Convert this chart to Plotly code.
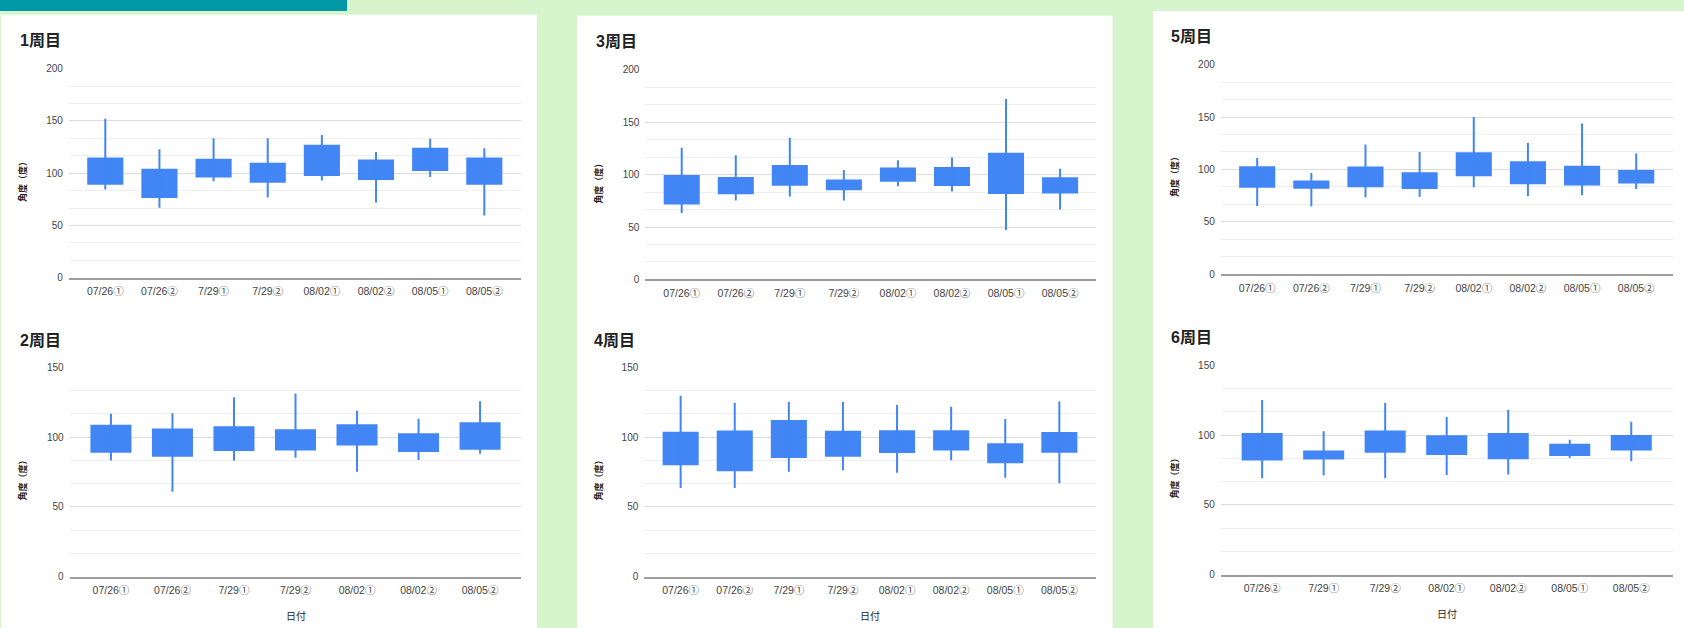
import plotly.graph_objects as go

W, H = 1684, 628

# ---- data: weekly joint-angle ranges (low / box bottom / box top / high) ----
labels_w1 = ["07/26①", "07/26②", "7/29①", "7/29②", "08/02①", "08/02②", "08/05①", "08/05②"]
low_w1 = [84.5, 67.0, 92.3, 76.7, 93.0, 72.0, 96.4, 59.5]
open_w1 = [88.9, 76.4, 95.8, 90.8, 97.3, 93.6, 102.0, 88.9]
close_w1 = [114.9, 104.2, 113.9, 109.9, 127.1, 113.0, 124.3, 114.9]
high_w1 = [152.1, 123.0, 133.3, 133.3, 136.5, 120.2, 133.0, 123.9]

labels_w2 = ["07/26①", "07/26②", "7/29①", "7/29②", "08/02①", "08/02②", "08/05②"]
low_w2 = [83.1, 60.8, 82.9, 85.2, 75.1, 83.6, 88.0]
open_w2 = [88.7, 85.9, 89.9, 90.4, 93.9, 89.2, 90.8]
close_w2 = [108.7, 106.1, 107.7, 105.6, 109.2, 102.6, 110.6]
high_w2 = [116.7, 117.1, 128.4, 131.2, 118.8, 113.1, 125.6]

labels_w3 = ["07/26①", "07/26②", "7/29①", "7/29②", "08/02①", "08/02②", "08/05①", "08/05②"]
low_w3 = [63.4, 75.3, 79.1, 75.3, 88.8, 83.8, 47.2, 66.6]
open_w3 = [71.6, 81.3, 89.4, 85.0, 93.1, 89.1, 81.6, 81.9]
close_w3 = [99.7, 97.8, 109.1, 95.3, 106.9, 107.2, 120.9, 97.5]
high_w3 = [125.6, 118.4, 135.3, 104.4, 113.8, 116.3, 172.2, 105.6]

labels_w4 = ["07/26①", "07/26②", "7/29①", "7/29②", "08/02①", "08/02②", "08/05①", "08/05②"]
low_w4 = [63.4, 63.4, 75.1, 76.1, 74.4, 83.3, 70.7, 66.9]
open_w4 = [79.8, 75.4, 85.0, 85.9, 88.5, 90.4, 81.2, 88.7]
close_w4 = [103.8, 104.7, 112.2, 104.5, 104.9, 104.9, 95.5, 103.5]
high_w4 = [129.6, 124.6, 125.1, 125.1, 123.0, 121.6, 112.9, 125.4]

labels_w5 = ["07/26①", "07/26②", "7/29①", "7/29②", "08/02①", "08/02②", "08/05①", "08/05②"]
low_w5 = [65.0, 64.7, 73.4, 73.8, 83.1, 74.4, 75.6, 81.3]
open_w5 = [82.5, 81.6, 83.1, 81.3, 93.4, 85.9, 84.7, 86.6]
close_w5 = [103.1, 89.4, 102.8, 97.2, 116.3, 107.8, 103.4, 99.4]
high_w5 = [110.9, 96.6, 123.8, 116.6, 150.0, 125.3, 143.8, 115.3]

labels_w6 = ["07/26②", "7/29①", "7/29②", "08/02①", "08/02②", "08/05①", "08/05②"]
low_w6 = [69.0, 71.1, 69.0, 71.4, 71.8, 83.6, 81.2]
open_w6 = [81.7, 82.4, 87.3, 85.7, 82.6, 85.0, 89.0]
close_w6 = [101.4, 89.0, 103.3, 99.8, 101.4, 93.7, 100.0]
high_w6 = [125.1, 102.8, 123.0, 112.9, 118.1, 96.7, 109.6]

titles = ["1周目", "2周目", "3周目", "4周目", "5周目", "6周目"]
y_maxes = [200, 150, 200, 150, 200, 150]
y_title = "角度（度）"
x_title = "日付"

# ---- styling ----
BLUE = "#4285F4"
PAGE_BG = "#d6f5cc"
TEAL = "#0097a7"
FONT = "Arial, 'Liberation Sans', 'Noto Sans CJK JP', sans-serif"


def fx(px):
    return px / W


def fy(py):
    return 1 - py / H


series = [
    (labels_w1, low_w1, open_w1, close_w1, high_w1),
    (labels_w2, low_w2, open_w2, close_w2, high_w2),
    (labels_w3, low_w3, open_w3, close_w3, high_w3),
    (labels_w4, low_w4, open_w4, close_w4, high_w4),
    (labels_w5, low_w5, open_w5, close_w5, high_w5),
    (labels_w6, low_w6, open_w6, close_w6, high_w6),
]

# pixel frame of each plot area: left, right, top(ymax), bottom(0)
frames = [
    (68.9, 520.7, 64.7, 277.7),
    (69.6, 521.4, 368.7, 581.7),
    (645.4, 1096.4, 66.0, 279.3),
    (644.3, 1095.7, 368.7, 581.7),
    (1220.8, 1672.6, 60.7, 274.0),
    (1220.8, 1672.6, 366.7, 579.7),
]
title_pos = [(18, 36), (18, 341), (594, 37), (592, 341), (1169, 32), (1169, 338)]
ytitle_pos = [(23, 178), (23, 482), (599, 180), (599, 482), (1175, 173), (1175, 480)]
xtitle_pos = [None, (296, 622), None, (870, 622), None, (1447, 620)]

fig = go.Figure()
layout_axes = {}
annotations = []

for i, ((labels, lo, op, cl, hi), (x0, x1, yt, yb)) in enumerate(zip(series, frames)):
    k = i + 1
    xa, ya = f"x{k}", f"y{k}"
    n = len(labels)

    # wicks: one vertical segment per date from low to high
    wx, wy = [], []
    for lab, l, h in zip(labels, lo, hi):
        wx += [lab, lab, None]
        wy += [l, h, None]
    fig.add_trace(go.Scatter(
        x=wx, y=wy, mode="lines", line=dict(color=BLUE, width=2),
        xaxis=xa, yaxis=ya, showlegend=False, hoverinfo="skip"))

    # boxes from open to close
    fig.add_trace(go.Bar(
        x=labels, y=[c - o for o, c in zip(op, cl)], base=op, width=0.667,
        marker=dict(color=BLUE, line=dict(width=0)),
        xaxis=xa, yaxis=ya, showlegend=False, hoverinfo="skip"))

    sfx = "" if k == 1 else str(k)
    layout_axes["xaxis" + sfx] = dict(
        domain=[fx(x0), fx(x1)], anchor=ya, type="category",
        categoryorder="array", categoryarray=labels,
        range=[-0.672, n - 1 + 0.672], showgrid=False, zeroline=False,
        ticks="", ticklabelstandoff=3,
        tickfont=dict(family=FONT, size=10.5, color="#444444"),
        showline=True, linecolor="#9e9e9e", linewidth=2, fixedrange=True)
    layout_axes["yaxis" + sfx] = dict(
        domain=[fy(yb), fy(yt)], anchor=xa, range=[0, y_maxes[i]],
        tick0=0, dtick=50, showgrid=True, gridcolor="#dcdcdc", gridwidth=1,
        minor=dict(tick0=0, dtick=50 / 3, showgrid=True, gridcolor="#efefef", gridwidth=1),
        zeroline=False, showline=False, ticks="", ticklabelstandoff=5,
        tickfont=dict(family=FONT, size=10, color="#444444"), fixedrange=True)

    tx, ty = title_pos[i]
    annotations.append(dict(
        text=titles[i], x=fx(tx), y=fy(ty), xref="paper", yref="paper",
        xanchor="left", yanchor="middle", showarrow=False,
        font=dict(family=FONT, size=16, color="#222222", weight="bold")))
    yx, yy = ytitle_pos[i]
    annotations.append(dict(
        text=y_title, x=fx(yx), y=fy(yy), xref="paper", yref="paper",
        xanchor="center", yanchor="middle", textangle=-90, showarrow=False,
        font=dict(family=FONT, size=9, color="#222222", weight="bold")))
    if xtitle_pos[i] is not None:
        xx, xy = xtitle_pos[i]
        annotations.append(dict(
            text=x_title, x=fx(xx), y=fy(xy), xref="paper", yref="paper",
            xanchor="center", yanchor="middle", showarrow=False,
            font=dict(family=FONT, size=10, color="#222222")))

# white cards behind each column of charts (running off the bottom edge),
# and the teal header strip
shapes = [
    dict(type="rect", xref="paper", yref="paper", x0=fx(1), x1=fx(537), y0=-0.1, y1=fy(10),
         fillcolor="white", line=dict(width=0), layer="below"),
    dict(type="rect", xref="paper", yref="paper", x0=fx(577), x1=fx(1112.5), y0=-0.1, y1=fy(11),
         fillcolor="white", line=dict(width=0), layer="below"),
    dict(type="rect", xref="paper", yref="paper", x0=fx(1153), x1=1.1, y0=-0.1, y1=fy(6),
         fillcolor="white", line=dict(width=0), layer="below"),
    dict(type="rect", xref="paper", yref="paper", x0=-0.1, x1=fx(347), y0=fy(6), y1=1.1,
         fillcolor=TEAL, line=dict(width=0), layer="below"),
]

fig.update_layout(
    width=W, height=H, autosize=False, margin=dict(l=0, r=0, t=0, b=0, pad=0),
    paper_bgcolor=PAGE_BG, plot_bgcolor="rgba(0,0,0,0)",
    barmode="overlay", showlegend=False,
    font=dict(family=FONT),
    shapes=shapes, annotations=annotations,
    **layout_axes)

fig.write_html("out.html", config={"displayModeBar": False, "responsive": False})
